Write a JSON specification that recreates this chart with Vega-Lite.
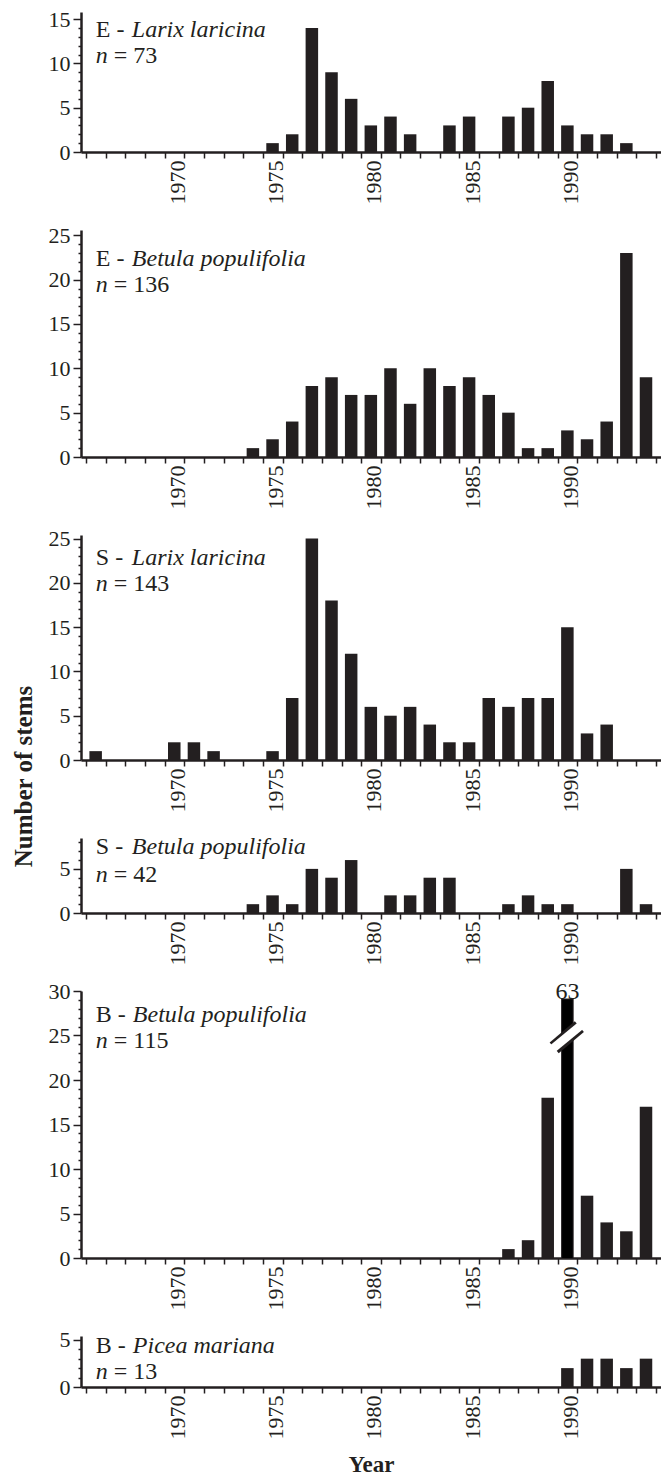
{
  "$schema": "https://vega.github.io/schema/vega-lite/v6.json",
  "padding": {"left": 11, "top": 8, "right": 0, "bottom": 2},
  "bounds": "flush",
  "spacing": 78,
  "config": {
    "view": {"stroke": null},
    "font": "Liberation Serif",
    "axis": {"labelFont": "Liberation Serif", "labelFontSize": 22, "labelColor": "#231f20", "domainColor": "#231f20", "tickColor": "#231f20", "domainWidth": 2.5, "tickWidth": 1.5, "grid": false, "labelOverlap": false, "labelFlush": false, "tickCount": 100, "titleFont": "Liberation Serif", "titleFontWeight": "bold", "titleFontSize": 23, "titleColor": "#231f20"},
    "text": {"font": "Liberation Serif", "fontSize": 24, "color": "#231f20", "align": "left", "baseline": "alphabetic"}
  },
  "datasets": {
    "eLarix": [{"year":1966,"stems":0},{"year":1967,"stems":0},{"year":1968,"stems":0},{"year":1969,"stems":0},{"year":1970,"stems":0},{"year":1971,"stems":0},{"year":1972,"stems":0},{"year":1973,"stems":0},{"year":1974,"stems":0},{"year":1975,"stems":1},{"year":1976,"stems":2},{"year":1977,"stems":14},{"year":1978,"stems":9},{"year":1979,"stems":6},{"year":1980,"stems":3},{"year":1981,"stems":4},{"year":1982,"stems":2},{"year":1983,"stems":0},{"year":1984,"stems":3},{"year":1985,"stems":4},{"year":1986,"stems":0},{"year":1987,"stems":4},{"year":1988,"stems":5},{"year":1989,"stems":8},{"year":1990,"stems":3},{"year":1991,"stems":2},{"year":1992,"stems":2},{"year":1993,"stems":1},{"year":1994,"stems":0}],
    "eBetula": [{"year":1966,"stems":0},{"year":1967,"stems":0},{"year":1968,"stems":0},{"year":1969,"stems":0},{"year":1970,"stems":0},{"year":1971,"stems":0},{"year":1972,"stems":0},{"year":1973,"stems":0},{"year":1974,"stems":1},{"year":1975,"stems":2},{"year":1976,"stems":4},{"year":1977,"stems":8},{"year":1978,"stems":9},{"year":1979,"stems":7},{"year":1980,"stems":7},{"year":1981,"stems":10},{"year":1982,"stems":6},{"year":1983,"stems":10},{"year":1984,"stems":8},{"year":1985,"stems":9},{"year":1986,"stems":7},{"year":1987,"stems":5},{"year":1988,"stems":1},{"year":1989,"stems":1},{"year":1990,"stems":3},{"year":1991,"stems":2},{"year":1992,"stems":4},{"year":1993,"stems":23},{"year":1994,"stems":9}],
    "sLarix": [{"year":1966,"stems":1},{"year":1967,"stems":0},{"year":1968,"stems":0},{"year":1969,"stems":0},{"year":1970,"stems":2},{"year":1971,"stems":2},{"year":1972,"stems":1},{"year":1973,"stems":0},{"year":1974,"stems":0},{"year":1975,"stems":1},{"year":1976,"stems":7},{"year":1977,"stems":25},{"year":1978,"stems":18},{"year":1979,"stems":12},{"year":1980,"stems":6},{"year":1981,"stems":5},{"year":1982,"stems":6},{"year":1983,"stems":4},{"year":1984,"stems":2},{"year":1985,"stems":2},{"year":1986,"stems":7},{"year":1987,"stems":6},{"year":1988,"stems":7},{"year":1989,"stems":7},{"year":1990,"stems":15},{"year":1991,"stems":3},{"year":1992,"stems":4},{"year":1993,"stems":0},{"year":1994,"stems":0}],
    "sBetula": [{"year":1966,"stems":0},{"year":1967,"stems":0},{"year":1968,"stems":0},{"year":1969,"stems":0},{"year":1970,"stems":0},{"year":1971,"stems":0},{"year":1972,"stems":0},{"year":1973,"stems":0},{"year":1974,"stems":1},{"year":1975,"stems":2},{"year":1976,"stems":1},{"year":1977,"stems":5},{"year":1978,"stems":4},{"year":1979,"stems":6},{"year":1980,"stems":0},{"year":1981,"stems":2},{"year":1982,"stems":2},{"year":1983,"stems":4},{"year":1984,"stems":4},{"year":1985,"stems":0},{"year":1986,"stems":0},{"year":1987,"stems":1},{"year":1988,"stems":2},{"year":1989,"stems":1},{"year":1990,"stems":1},{"year":1991,"stems":0},{"year":1992,"stems":0},{"year":1993,"stems":5},{"year":1994,"stems":1}],
    "bBetula": [{"year":1966,"stems":0},{"year":1967,"stems":0},{"year":1968,"stems":0},{"year":1969,"stems":0},{"year":1970,"stems":0},{"year":1971,"stems":0},{"year":1972,"stems":0},{"year":1973,"stems":0},{"year":1974,"stems":0},{"year":1975,"stems":0},{"year":1976,"stems":0},{"year":1977,"stems":0},{"year":1978,"stems":0},{"year":1979,"stems":0},{"year":1980,"stems":0},{"year":1981,"stems":0},{"year":1982,"stems":0},{"year":1983,"stems":0},{"year":1984,"stems":0},{"year":1985,"stems":0},{"year":1986,"stems":0},{"year":1987,"stems":1},{"year":1988,"stems":2},{"year":1989,"stems":18},{"year":1990,"stems":63},{"year":1991,"stems":7},{"year":1992,"stems":4},{"year":1993,"stems":3},{"year":1994,"stems":17}],
    "bPicea": [{"year":1966,"stems":0},{"year":1967,"stems":0},{"year":1968,"stems":0},{"year":1969,"stems":0},{"year":1970,"stems":0},{"year":1971,"stems":0},{"year":1972,"stems":0},{"year":1973,"stems":0},{"year":1974,"stems":0},{"year":1975,"stems":0},{"year":1976,"stems":0},{"year":1977,"stems":0},{"year":1978,"stems":0},{"year":1979,"stems":0},{"year":1980,"stems":0},{"year":1981,"stems":0},{"year":1982,"stems":0},{"year":1983,"stems":0},{"year":1984,"stems":0},{"year":1985,"stems":0},{"year":1986,"stems":0},{"year":1987,"stems":0},{"year":1988,"stems":0},{"year":1989,"stems":0},{"year":1990,"stems":2},{"year":1991,"stems":3},{"year":1992,"stems":3},{"year":1993,"stems":2},{"year":1994,"stems":3}]
  },
  "vconcat": [
    {
      "width": 580, "height": 140,
      "layer": [
        {"data": {"name": "eLarix"}, "mark": {"type": "bar", "size": 12.5, "xOffset": -10, "color": "#231f20"},
         "encoding": {
           "x": {"field": "year", "type": "quantitative", "scale": {"domain": [1965, 1994], "nice": false, "zero": false}, "axis": {"values": [1965,1966,1967,1968,1969,1970,1971,1972,1973,1974,1975,1976,1977,1978,1979,1980,1981,1982,1983,1984,1985,1986,1987,1988,1989,1990,1991,1992,1993,1994], "tickCount": 100, "format": "d", "labelExpr": "datum.value % 5 === 0 && datum.value > 1965 ? datum.label : ''", "labelAngle": -90, "labelAlign": "right", "labelBaseline": "alphabetic", "labelOverlap": false, "labelFlush": false, "tickSize": 6, "labelPadding": 2, "title": null}},
           "y": {"field": "stems", "type": "quantitative", "scale": {"domain": [0, 15.8], "nice": false}, "axis": {"values": [0,1,2,3,4,5,6,7,8,9,10,11,12,13,14,15], "tickCount": 100, "format": "d", "labelExpr": "datum.value % 5 === 0 ? datum.label : ''", "tickSize": {"condition": {"test": "datum.value % 5 === 0", "value": 8}, "value": 3}, "labelPadding": 3, "labelOverlap": false, "labelFlush": false, "title": null}}
         }},
        {"data": {"values": [{"site": "E", "species": "Larix laricina", "n": 73}]}, "mark": {"type": "text"}, "encoding": {"x": {"datum": 1965.5}, "y": {"datum": 13.0}, "text": {"value": "E -"}}},
        {"data": {"values": [{"site": "E", "species": "Larix laricina", "n": 73}]}, "mark": {"type": "text", "fontStyle": "italic", "dx": 36}, "encoding": {"x": {"datum": 1965.5}, "y": {"datum": 13.0}, "text": {"field": "species"}}},
        {"data": {"values": [{"site": "E", "species": "Larix laricina", "n": 73}]}, "mark": {"type": "text", "fontStyle": "italic"}, "encoding": {"x": {"datum": 1965.5}, "y": {"datum": 10.1}, "text": {"value": "n"}}},
        {"data": {"values": [{"site": "E", "species": "Larix laricina", "n": 73}]}, "mark": {"type": "text", "dx": 18}, "encoding": {"x": {"datum": 1965.5}, "y": {"datum": 10.1}, "text": {"value": "= 73"}}}
      ]
    },
    {
      "width": 580, "height": 227,
      "layer": [
        {"data": {"name": "eBetula"}, "mark": {"type": "bar", "size": 12.5, "xOffset": -10, "color": "#231f20"},
         "encoding": {
           "x": {"field": "year", "type": "quantitative", "scale": {"domain": [1965, 1994], "nice": false, "zero": false}, "axis": {"values": [1965,1966,1967,1968,1969,1970,1971,1972,1973,1974,1975,1976,1977,1978,1979,1980,1981,1982,1983,1984,1985,1986,1987,1988,1989,1990,1991,1992,1993,1994], "tickCount": 100, "format": "d", "labelExpr": "datum.value % 5 === 0 && datum.value > 1965 ? datum.label : ''", "labelAngle": -90, "labelAlign": "right", "labelBaseline": "alphabetic", "labelOverlap": false, "labelFlush": false, "tickSize": 6, "labelPadding": 2, "title": null}},
           "y": {"field": "stems", "type": "quantitative", "scale": {"domain": [0, 25.6], "nice": false}, "axis": {"values": [0,1,2,3,4,5,6,7,8,9,10,11,12,13,14,15,16,17,18,19,20,21,22,23,24,25], "tickCount": 100, "format": "d", "labelExpr": "datum.value % 5 === 0 ? datum.label : ''", "tickSize": {"condition": {"test": "datum.value % 5 === 0", "value": 8}, "value": 3}, "labelPadding": 3, "labelOverlap": false, "labelFlush": false, "title": null}}
         }},
        {"data": {"values": [{"site": "E", "species": "Betula populifolia", "n": 136}]}, "mark": {"type": "text"}, "encoding": {"x": {"datum": 1965.5}, "y": {"datum": 21.5}, "text": {"value": "E -"}}},
        {"data": {"values": [{"site": "E", "species": "Betula populifolia", "n": 136}]}, "mark": {"type": "text", "fontStyle": "italic", "dx": 36}, "encoding": {"x": {"datum": 1965.5}, "y": {"datum": 21.5}, "text": {"field": "species"}}},
        {"data": {"values": [{"site": "E", "species": "Betula populifolia", "n": 136}]}, "mark": {"type": "text", "fontStyle": "italic"}, "encoding": {"x": {"datum": 1965.5}, "y": {"datum": 18.6}, "text": {"value": "n"}}},
        {"data": {"values": [{"site": "E", "species": "Betula populifolia", "n": 136}]}, "mark": {"type": "text", "dx": 18}, "encoding": {"x": {"datum": 1965.5}, "y": {"datum": 18.6}, "text": {"value": "= 136"}}}
      ]
    },
    {
      "width": 580, "height": 225,
      "layer": [
        {"data": {"name": "sLarix"}, "mark": {"type": "bar", "size": 12.5, "xOffset": -10, "color": "#231f20"},
         "encoding": {
           "x": {"field": "year", "type": "quantitative", "scale": {"domain": [1965, 1994], "nice": false, "zero": false}, "axis": {"values": [1965,1966,1967,1968,1969,1970,1971,1972,1973,1974,1975,1976,1977,1978,1979,1980,1981,1982,1983,1984,1985,1986,1987,1988,1989,1990,1991,1992,1993,1994], "tickCount": 100, "format": "d", "labelExpr": "datum.value % 5 === 0 && datum.value > 1965 ? datum.label : ''", "labelAngle": -90, "labelAlign": "right", "labelBaseline": "alphabetic", "labelOverlap": false, "labelFlush": false, "tickSize": 6, "labelPadding": 2, "title": null}},
           "y": {"field": "stems", "type": "quantitative", "scale": {"domain": [0, 25.4], "nice": false}, "axis": {"values": [0,1,2,3,4,5,6,7,8,9,10,11,12,13,14,15,16,17,18,19,20,21,22,23,24,25], "tickCount": 100, "format": "d", "labelExpr": "datum.value % 5 === 0 ? datum.label : ''", "tickSize": {"condition": {"test": "datum.value % 5 === 0", "value": 8}, "value": 3}, "labelPadding": 3, "labelOverlap": false, "labelFlush": false, "title": "Number of stems", "titleFontSize": 25, "titleX": -50, "titleY": 241, "titleAngle": -90, "titleAlign": "center", "titleBaseline": "alphabetic"}}
         }},
        {"data": {"values": [{"site": "S", "species": "Larix laricina", "n": 143}]}, "mark": {"type": "text"}, "encoding": {"x": {"datum": 1965.5}, "y": {"datum": 22.0}, "text": {"value": "S -"}}},
        {"data": {"values": [{"site": "S", "species": "Larix laricina", "n": 143}]}, "mark": {"type": "text", "fontStyle": "italic", "dx": 36}, "encoding": {"x": {"datum": 1965.5}, "y": {"datum": 22.0}, "text": {"field": "species"}}},
        {"data": {"values": [{"site": "S", "species": "Larix laricina", "n": 143}]}, "mark": {"type": "text", "fontStyle": "italic"}, "encoding": {"x": {"datum": 1965.5}, "y": {"datum": 19.05}, "text": {"value": "n"}}},
        {"data": {"values": [{"site": "S", "species": "Larix laricina", "n": 143}]}, "mark": {"type": "text", "dx": 18}, "encoding": {"x": {"datum": 1965.5}, "y": {"datum": 19.05}, "text": {"value": "= 143"}}}
      ]
    },
    {
      "width": 580, "height": 75,
      "layer": [
        {"data": {"name": "sBetula"}, "mark": {"type": "bar", "size": 12.5, "xOffset": -10, "color": "#231f20"},
         "encoding": {
           "x": {"field": "year", "type": "quantitative", "scale": {"domain": [1965, 1994], "nice": false, "zero": false}, "axis": {"values": [1965,1966,1967,1968,1969,1970,1971,1972,1973,1974,1975,1976,1977,1978,1979,1980,1981,1982,1983,1984,1985,1986,1987,1988,1989,1990,1991,1992,1993,1994], "tickCount": 100, "format": "d", "labelExpr": "datum.value % 5 === 0 && datum.value > 1965 ? datum.label : ''", "labelAngle": -90, "labelAlign": "right", "labelBaseline": "alphabetic", "labelOverlap": false, "labelFlush": false, "tickSize": 6, "labelPadding": 2, "title": null}},
           "y": {"field": "stems", "type": "quantitative", "scale": {"domain": [0, 8.5], "nice": false}, "axis": {"values": [0,1,2,3,4,5,6,7,8], "tickCount": 100, "format": "d", "labelExpr": "datum.value % 5 === 0 ? datum.label : ''", "tickSize": {"condition": {"test": "datum.value % 5 === 0", "value": 8}, "value": 3}, "labelPadding": 3, "labelOverlap": false, "labelFlush": false, "title": null}}
         }},
        {"data": {"values": [{"site": "S", "species": "Betula populifolia", "n": 42}]}, "mark": {"type": "text"}, "encoding": {"x": {"datum": 1965.5}, "y": {"datum": 6.7}, "text": {"value": "S -"}}},
        {"data": {"values": [{"site": "S", "species": "Betula populifolia", "n": 42}]}, "mark": {"type": "text", "fontStyle": "italic", "dx": 36}, "encoding": {"x": {"datum": 1965.5}, "y": {"datum": 6.7}, "text": {"field": "species"}}},
        {"data": {"values": [{"site": "S", "species": "Betula populifolia", "n": 42}]}, "mark": {"type": "text", "fontStyle": "italic"}, "encoding": {"x": {"datum": 1965.5}, "y": {"datum": 3.5}, "text": {"value": "n"}}},
        {"data": {"values": [{"site": "S", "species": "Betula populifolia", "n": 42}]}, "mark": {"type": "text", "dx": 18}, "encoding": {"x": {"datum": 1965.5}, "y": {"datum": 3.5}, "text": {"value": "= 42"}}}
      ]
    },
    {
      "width": 580, "height": 267,
      "layer": [
        {"data": {"name": "bBetula"}, "transform": [{"filter": "datum.stems <= 30"}], "mark": {"type": "bar", "size": 12.5, "xOffset": -10, "color": "#231f20"},
         "encoding": {
           "x": {"field": "year", "type": "quantitative", "scale": {"domain": [1965, 1994], "nice": false, "zero": false}, "axis": {"values": [1965,1966,1967,1968,1969,1970,1971,1972,1973,1974,1975,1976,1977,1978,1979,1980,1981,1982,1983,1984,1985,1986,1987,1988,1989,1990,1991,1992,1993,1994], "tickCount": 100, "format": "d", "labelExpr": "datum.value % 5 === 0 && datum.value > 1965 ? datum.label : ''", "labelAngle": -90, "labelAlign": "right", "labelBaseline": "alphabetic", "labelOverlap": false, "labelFlush": false, "tickSize": 6, "labelPadding": 2, "title": null}},
           "y": {"field": "stems", "type": "quantitative", "scale": {"domain": [0, 30], "nice": false, "clamp": true}, "axis": {"values": [0,1,2,3,4,5,6,7,8,9,10,11,12,13,14,15,16,17,18,19,20,21,22,23,24,25,26,27,28,29,30], "tickCount": 100, "format": "d", "labelExpr": "datum.value % 5 === 0 ? datum.label : ''", "tickSize": {"condition": {"test": "datum.value % 5 === 0", "value": 8}, "value": 3}, "labelPadding": 3, "labelOverlap": false, "labelFlush": false, "title": null}}
         }},
        {"data": {"name": "bBetula"}, "transform": [{"filter": "datum.stems > 30"}], "mark": {"type": "bar", "size": 11.5, "xOffset": -10, "yOffset": 8, "clip": true, "color": "#000000", "stroke": "#231f20", "strokeWidth": 1},
         "encoding": {
           "x": {"field": "year", "type": "quantitative"},
           "y": {"field": "stems", "type": "quantitative", "scale": {"domain": [0, 30], "nice": false, "clamp": true}}
         }},
        {"data": {"values": [{"year": 1990, "stems": 63}]}, "mark": {"type": "rule", "color": "#231f20", "strokeWidth": 14, "strokeCap": "butt"}, "encoding": {"x": {"datum": 1988.82}, "x2": {"datum": 1990.1}, "y": {"datum": 23.6}, "y2": {"datum": 26.0}}},
        {"data": {"values": [{"year": 1990, "stems": 63}]}, "mark": {"type": "rule", "color": "#ffffff", "strokeWidth": 8.5, "strokeCap": "butt"}, "encoding": {"x": {"datum": 1988.6}, "x2": {"datum": 1990.3}, "y": {"datum": 23.25}, "y2": {"datum": 26.35}}},
        {"data": {"values": [{"year": 1990, "stems": 63}]}, "mark": {"type": "text", "align": "center", "dx": -10, "dy": 8}, "encoding": {"x": {"field": "year", "type": "quantitative"}, "y": {"datum": 30}, "text": {"field": "stems", "type": "quantitative", "format": "d"}}},
        {"data": {"values": [{"site": "B", "species": "Betula populifolia", "n": 115}]}, "mark": {"type": "text"}, "encoding": {"x": {"datum": 1965.5}, "y": {"datum": 26.55}, "text": {"value": "B -"}}},
        {"data": {"values": [{"site": "B", "species": "Betula populifolia", "n": 115}]}, "mark": {"type": "text", "fontStyle": "italic", "dx": 37}, "encoding": {"x": {"datum": 1965.5}, "y": {"datum": 26.55}, "text": {"field": "species"}}},
        {"data": {"values": [{"site": "B", "species": "Betula populifolia", "n": 115}]}, "mark": {"type": "text", "fontStyle": "italic"}, "encoding": {"x": {"datum": 1965.5}, "y": {"datum": 23.56}, "text": {"value": "n"}}},
        {"data": {"values": [{"site": "B", "species": "Betula populifolia", "n": 115}]}, "mark": {"type": "text", "dx": 18}, "encoding": {"x": {"datum": 1965.5}, "y": {"datum": 23.56}, "text": {"value": "= 115"}}}
      ]
    },
    {
      "width": 580, "height": 51,
      "layer": [
        {"data": {"name": "bPicea"}, "mark": {"type": "bar", "size": 12.5, "xOffset": -10, "color": "#231f20"},
         "encoding": {
           "x": {"field": "year", "type": "quantitative", "scale": {"domain": [1965, 1994], "nice": false, "zero": false}, "axis": {"values": [1965,1966,1967,1968,1969,1970,1971,1972,1973,1974,1975,1976,1977,1978,1979,1980,1981,1982,1983,1984,1985,1986,1987,1988,1989,1990,1991,1992,1993,1994], "tickCount": 100, "format": "d", "labelExpr": "datum.value % 5 === 0 && datum.value > 1965 ? datum.label : ''", "labelAngle": -90, "labelAlign": "right", "labelBaseline": "alphabetic", "labelOverlap": false, "labelFlush": false, "tickSize": 6, "labelPadding": 2, "title": "Year", "titlePadding": 14}},
           "y": {"field": "stems", "type": "quantitative", "scale": {"domain": [0, 5.4], "nice": false}, "axis": {"values": [0,1,2,3,4,5], "tickCount": 100, "format": "d", "labelExpr": "datum.value % 5 === 0 ? datum.label : ''", "tickSize": {"condition": {"test": "datum.value % 5 === 0", "value": 8}, "value": 3}, "labelPadding": 3, "labelOverlap": false, "labelFlush": false, "title": null}}
         }},
        {"data": {"values": [{"site": "B", "species": "Picea mariana", "n": 13}]}, "mark": {"type": "text"}, "encoding": {"x": {"datum": 1965.5}, "y": {"datum": 3.6}, "text": {"value": "B -"}}},
        {"data": {"values": [{"site": "B", "species": "Picea mariana", "n": 13}]}, "mark": {"type": "text", "fontStyle": "italic", "dx": 37}, "encoding": {"x": {"datum": 1965.5}, "y": {"datum": 3.6}, "text": {"field": "species"}}},
        {"data": {"values": [{"site": "B", "species": "Picea mariana", "n": 13}]}, "mark": {"type": "text", "fontStyle": "italic"}, "encoding": {"x": {"datum": 1965.5}, "y": {"datum": 0.9}, "text": {"value": "n"}}},
        {"data": {"values": [{"site": "B", "species": "Picea mariana", "n": 13}]}, "mark": {"type": "text", "dx": 18}, "encoding": {"x": {"datum": 1965.5}, "y": {"datum": 0.9}, "text": {"value": "= 13"}}}
      ]
    }
  ]
}
